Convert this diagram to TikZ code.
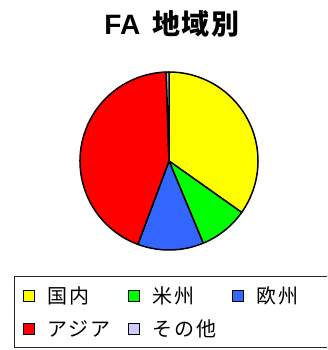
\documentclass[tikz,border=0pt]{standalone}
\usepackage{fontspec}
\setmainfont{Liberation Sans}
\newfontfamily\jpfont[LetterSpace=10]{Noto Sans CJK JP}
\newfontfamily\jpbold[LetterSpace=6]{Noto Sans CJK JP Bold}
\definecolor{cyel}{HTML}{FFFF00}
\definecolor{cgrn}{HTML}{00FF00}
\definecolor{cblu}{HTML}{3366FF}
\definecolor{cred}{HTML}{FF0000}
\definecolor{coth}{HTML}{CCCCFF}
\tikzset{
  slice/.style={draw=black, line width=1.5pt, line join=round},
  swatch/.style={draw=black, line width=1.4pt, minimum size=11pt, inner sep=0pt},
  legtext/.style={anchor=west, inner sep=0pt, font=\jpfont\fontsize{20}{22}\selectfont},
}
\begin{document}
\begin{tikzpicture}[x=1pt,y=-1pt]
\useasboundingbox (0,0) rectangle (327,350);
\clip (0,0) rectangle (327,350);
\fill[white] (0,0) rectangle (327,350);
% title
\node (title) at (172,24) {\fontsize{28}{30}\selectfont\bfseries FA\hspace{12pt}\jpbold 地域別};
% pie
\coordinate (c) at (169,161);
\def\R{89pt}
\filldraw[slice, fill=cyel] (c) -- ++(90:\R) arc[start angle=90, end angle=-35.3, radius=\R] -- cycle;
\filldraw[slice, fill=cgrn] (c) -- ++(-35.3:\R) arc[start angle=-35.3, end angle=-67.4, radius=\R] -- cycle;
\filldraw[slice, fill=cblu] (c) -- ++(-67.4:\R) arc[start angle=-67.4, end angle=-110.5, radius=\R] -- cycle;
\filldraw[slice, fill=cred] (c) -- ++(-110.5:\R) arc[start angle=-110.5, end angle=-268.2, radius=\R] -- cycle;
\filldraw[slice, fill=coth] (c) -- ++(91.8:\R) arc[start angle=91.8, end angle=90, radius=\R] -- cycle;
% legend
\draw[black!85, line width=1pt] (14,276) rectangle (340,347);
\node[swatch, fill=cyel] (s1) at (29,296) {};
\node[legtext] (t1) at (47,296) {国内};
\node[swatch, fill=cgrn] (s2) at (134,296) {};
\node[legtext] (t2) at (152,296) {米州};
\node[swatch, fill=cblu] (s3) at (238,296) {};
\node[legtext] (t3) at (256,296) {欧州};
\node[swatch, fill=cred] (s4) at (29,329) {};
\node[legtext] (t4) at (47,329) {アジア};
\node[swatch, fill=coth] (s5) at (134,329) {};
\node[legtext] (t5) at (152,329) {その他};
\end{tikzpicture}
\end{document}
